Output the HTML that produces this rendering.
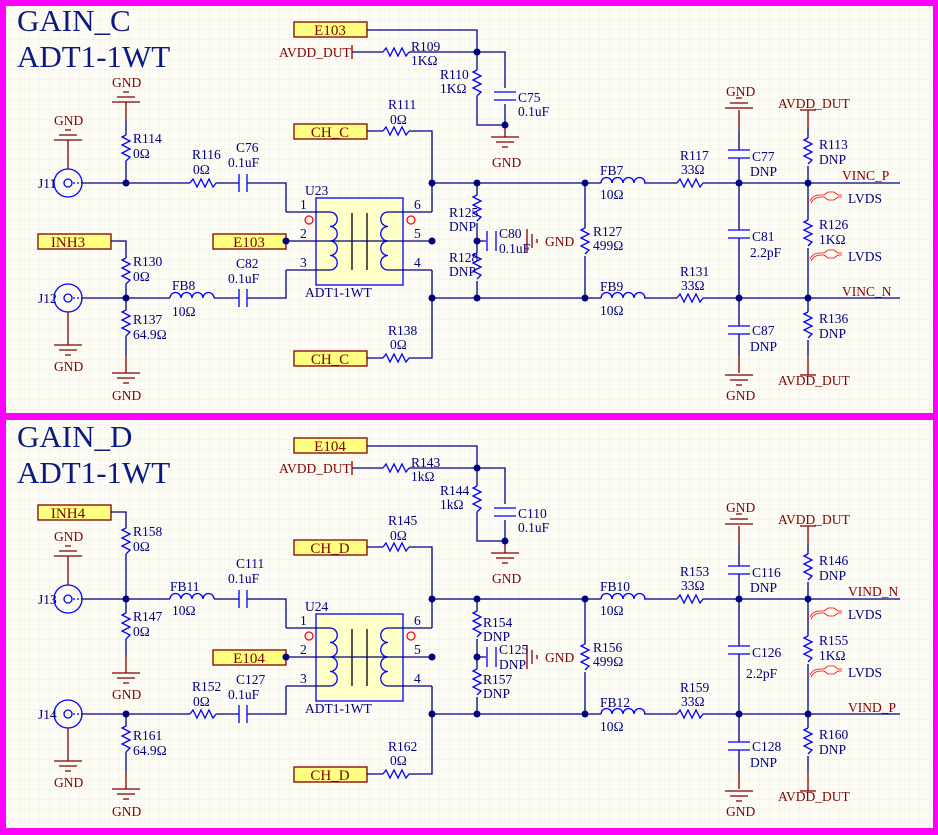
<!DOCTYPE html>
<html><head><meta charset="utf-8"><style>
html,body{margin:0;padding:0;background:#ff00ff;}
svg{display:block;}
text{font-family:"Liberation Serif",serif;font-size:13.5px;fill:#000080;}
.r{fill:#800000;}
.p{fill:#800000;font-size:15px;text-anchor:middle;}
.t{font-size:31px;fill:#0a1a80;}
.w{stroke:#000080;stroke-width:1.3;fill:none;}
.b{stroke:#0000ff;stroke-width:1.3;fill:none;}
.d{stroke:#800000;stroke-width:1.3;fill:none;}
.k{stroke:#000;stroke-width:1.3;fill:none;}
.red{stroke:#ff0000;stroke-width:0.8;fill:none;}
.port{fill:#ffff80;stroke:#800000;stroke-width:1.3;}
.dot{fill:#000080;}
</style></head><body>
<svg width="938" height="835" viewBox="0 0 938 835" xmlns="http://www.w3.org/2000/svg">
<defs>
<pattern id="grid" width="10" height="10" patternUnits="userSpaceOnUse">
<path d="M10,0 V10 M0,10 H10" stroke="#eeede6" stroke-width="1" fill="none"/>
</pattern>
<g id="rh"><path class="b" d="M0,0 l3,-4 l4,8 l4,-8 l4,8 l4,-8 l4,8 l3,-4"/></g>
<g id="rv"><path class="b" d="M0,0 l-4,2 l8,4 l-8,4 l8,4 l-8,4 l8,4 l-4,4"/></g>
<g id="ind"><path class="b" d="M0,0 a5.5,5.5 0 0 1 11,0 a5.5,5.5 0 0 1 11,0 a5.5,5.5 0 0 1 11,0 a5.5,5.5 0 0 1 11,0"/></g>
<g id="ch"><path class="b" d="M-4,-9 V9 M4,-9 V9"/></g>
<g id="cv"><path class="b" d="M-11,-4 H11 M-11,4 H11"/></g>
<g id="gt"><path class="d" d="M-14,0 H14 M-9,-5 H9 M-3,-10 H3"/></g>
<g id="gb"><path class="d" d="M-14,0 H14 M-9,5 H9 M-3,10 H3"/></g>
<g id="lv"><path class="red" d="M0,8 q3,-6 10,-6 h4 l4,-3 h6 l4,3 h4 M1,10 q3,-6 10,-6 h3 l4,3 h6 l4,-3 h4"/></g>
<g id="jc"><circle cx="0" cy="0" r="14" class="b"/><circle cx="0" cy="0" r="4" class="b"/><path class="b" d="M5,0 H14" stroke-dasharray="2,2"/></g>
<g id="xf">
<rect x="316" y="198" width="87" height="87" fill="#ffffc8" stroke="#0000ff" stroke-width="1.3"/>
<path class="b" d="M330,212 a7.25,7.25 0 0 1 0,14.5 a7.25,7.25 0 0 1 0,14.5 a7.25,7.25 0 0 1 0,14.5 a7.25,7.25 0 0 1 0,14.5"/>
<path class="b" d="M388,212 a7.25,7.25 0 0 0 0,14.5 a7.25,7.25 0 0 0 0,14.5 a7.25,7.25 0 0 0 0,14.5 a7.25,7.25 0 0 0 0,14.5"/>
<path class="k" d="M352,213 V270 M367,213 V270"/>
<path class="w" d="M286,212 H330 M286,270 H330 M388,212 H432 M388,270 H432 M286,241 H432"/>
<circle cx="309" cy="220" r="4" fill="none" stroke="#ff0000" stroke-width="1.2"/>
<circle cx="411" cy="220" r="4" fill="none" stroke="#ff0000" stroke-width="1.2"/>
<text x="300" y="209" fill="#000">1</text><text x="300" y="238" fill="#000">2</text><text x="300" y="267" fill="#000">3</text>
<text x="414" y="209" fill="#000">6</text><text x="414" y="238" fill="#000">5</text><text x="414" y="267" fill="#000">4</text>
</g>
<g id="common">
<rect class="port" x="294" y="22" width="73" height="15"/>
<path class="w" d="M367,30 H477 V52 M352,52 H383 M409,52 H505 V88 M505,104 V125 M477,52 V70 M477,96 V125 H505"/>
<path class="d" d="M352,45 V59 M505,125 V137"/>
<use href="#rh" x="383" y="52"/><use href="#rv" x="477" y="70"/>
<g transform="translate(505,96)"><use href="#cv"/></g>
<circle class="dot" cx="477" cy="52" r="3.5"/><circle class="dot" cx="505" cy="125" r="3.5"/>
<use href="#gb" x="505" y="137"/><text class="r" x="492" y="167">GND</text>
<text class="r" x="279" y="57">AVDD_DUT</text>
<rect class="port" x="294" y="124" width="73" height="15"/>
<rect class="port" x="294" y="351" width="73" height="15"/>
<path class="w" d="M367,131 H383 M409,131 H432 V212 M367,358 H383 M409,358 H432 V270"/>
<use href="#rh" x="383" y="131"/><use href="#rh" x="383" y="358"/>
<rect class="port" x="213" y="234" width="73" height="15"/>
<circle class="dot" cx="286" cy="241" r="3.5"/>
<use href="#xf"/>
<path class="w" d="M247,183 H286 V212 M247,298 H286 V270"/>
<path class="w" d="M432,183 H601 M644,183 H677 M703,183 H900 M432,298 H601 M644,298 H677 M703,298 H900"/>
<use href="#ind" x="601" y="183"/><use href="#ind" x="601" y="298"/>
<use href="#rh" x="677" y="183"/><use href="#rh" x="677" y="298"/>
<path class="w" d="M477,183 V195 M477,223 V253 M477,281 V298 M477,241 H486"/>
<use href="#rv" x="477" y="195"/><use href="#rv" x="477" y="253"/>
<path class="b" d="M487,231 V251 M496,231 V251"/>
<path class="d" d="M527,229 V253 M532,234 V248 M537,239 V243"/>
<text class="r" x="545" y="246">GND</text>
<path class="w" d="M585,183 V228 M585,256 V298"/><use href="#rv" x="585" y="228"/>
<path class="w" d="M739,130 V150 M739,158 V230 M739,238 V326 M739,334 V355"/>
<path class="d" d="M739,110 V130 M739,355 V373"/>
<g transform="translate(739,154)"><use href="#cv"/></g>
<g transform="translate(739,234)"><use href="#cv"/></g>
<g transform="translate(739,330)"><use href="#cv"/></g>
<use href="#gt" x="739" y="108"/><text class="r" x="726" y="96">GND</text>
<use href="#gb" x="739" y="375"/><text class="r" x="726" y="400">GND</text>
<path class="w" d="M808,128 V138 M808,166 V220 M808,248 V312 M808,340 V355"/>
<path class="d" d="M808,110 V128 M808,355 V375 M800,110 H816 M800,375 H816"/>
<use href="#rv" x="808" y="138"/><use href="#rv" x="808" y="220"/><use href="#rv" x="808" y="312"/>
<use href="#lv" x="810" y="193"/><use href="#lv" x="810" y="251"/>
<text x="848" y="203">LVDS</text><text x="848" y="261">LVDS</text>
<text class="r" x="778" y="108">AVDD_DUT</text><text class="r" x="778" y="385">AVDD_DUT</text>
<circle class="dot" cx="432" cy="183" r="3.5"/><circle class="dot" cx="477" cy="183" r="3.5"/><circle class="dot" cx="585" cy="183" r="3.5"/><circle class="dot" cx="739" cy="183" r="3.5"/><circle class="dot" cx="808" cy="183" r="3.5"/>
<circle class="dot" cx="432" cy="298" r="3.5"/><circle class="dot" cx="477" cy="298" r="3.5"/><circle class="dot" cx="585" cy="298" r="3.5"/><circle class="dot" cx="739" cy="298" r="3.5"/><circle class="dot" cx="808" cy="298" r="3.5"/>
<circle class="dot" cx="432" cy="241" r="3.5"/><circle class="dot" cx="477" cy="241" r="3.5"/>
<use href="#jc" x="68" y="183"/><use href="#jc" x="68" y="298"/>
<path class="w" d="M82,183 H126 M82,298 H126"/>
<path class="d" d="M68,140 V169 M68,312 V345"/>
<use href="#gt" x="68" y="140"/><text class="r" x="54" y="125">GND</text>
<use href="#gb" x="68" y="345"/><text class="r" x="54" y="371">GND</text>
<circle class="dot" cx="126" cy="183" r="3.5"/><circle class="dot" cx="126" cy="298" r="3.5"/>
</g>
</defs>

<rect x="6" y="6" width="927" height="407" fill="#fcfbf4"/>
<rect x="6" y="420" width="927" height="408" fill="#fcfbf4"/>
<rect x="6" y="6" width="927" height="407" fill="url(#grid)"/>
<rect x="6" y="420" width="927" height="408" fill="url(#grid)"/>

<g>
<use href="#common"/>
<text class="t" x="17" y="31">GAIN_C</text>
<text class="t" x="17" y="67">ADT1-1WT</text>
<text class="p" x="330" y="35">E103</text>
<text class="p" x="330" y="137">CH_C</text><text class="p" x="330" y="364">CH_C</text>
<text class="p" x="249" y="247">E103</text>
<text x="411" y="51">R109</text><text x="411" y="65">1KΩ</text>
<text x="440" y="79">R110</text><text x="440" y="93">1KΩ</text>
<text x="518" y="102">C75</text><text x="518" y="116">0.1uF</text>
<text x="388" y="109">R111</text><text x="390" y="124">0Ω</text>
<text x="388" y="335">R138</text><text x="390" y="349">0Ω</text>
<text x="305" y="195">U23</text><text x="305" y="297">ADT1-1WT</text>
<text x="449" y="217">R125</text><text x="449" y="231">DNP</text>
<text x="449" y="262">R128</text><text x="449" y="276">DNP</text>
<text x="499" y="238">C80</text><text x="499" y="253">0.1uF</text>
<text x="593" y="236">R127</text><text x="593" y="250">499Ω</text>
<text x="600" y="175">FB7</text><text x="600" y="199">10Ω</text>
<text x="600" y="291">FB9</text><text x="600" y="315">10Ω</text>
<text x="680" y="160">R117</text><text x="681" y="174">33Ω</text>
<text x="680" y="276">R131</text><text x="681" y="290">33Ω</text>
<text x="752" y="161">C77</text><text x="750" y="176">DNP</text>
<text x="752" y="241">C81</text><text x="750" y="257">2.2pF</text>
<text x="752" y="335">C87</text><text x="750" y="351">DNP</text>
<text x="819" y="149">R113</text><text x="819" y="164">DNP</text>
<text x="819" y="229">R126</text><text x="819" y="244">1KΩ</text>
<text x="819" y="323">R136</text><text x="819" y="338">DNP</text>
<text class="r" x="842" y="180">VINC_P</text><text class="r" x="842" y="296">VINC_N</text>
<text x="38" y="188">J11</text><text x="38" y="303">J12</text>
<path class="w" d="M126,183 H190 M216,183 H239 M126,298 H170 M214,298 H239"/>
<use href="#rh" x="190" y="183"/><g transform="translate(243,183)"><use href="#ch"/></g>
<use href="#ind" x="170" y="298"/><g transform="translate(243,298)"><use href="#ch"/></g>
<text x="192" y="159">R116</text><text x="193" y="174">0Ω</text>
<text x="236" y="152">C76</text><text x="228" y="167">0.1uF</text>
<text x="172" y="290">FB8</text><text x="172" y="316">10Ω</text>
<text x="236" y="268">C82</text><text x="228" y="283">0.1uF</text>
<path class="d" d="M126,102 V120"/><path class="w" d="M126,120 V135 M126,161 V183"/>
<use href="#gt" x="126" y="102"/><text class="r" x="112" y="87">GND</text>
<use href="#rv" x="126" y="135"/>
<text x="133" y="143">R114</text><text x="133" y="158">0Ω</text>
<rect class="port" x="38" y="234" width="73" height="15"/>
<text class="p" x="68" y="247">INH3</text>
<path class="w" d="M111,241 H126 V258 M126,284 V310 M126,336 V355"/>
<path class="d" d="M126,355 V373"/>
<use href="#rv" x="126" y="258"/><use href="#rv" x="126" y="310"/>
<use href="#gb" x="126" y="373"/><text class="r" x="112" y="400">GND</text>
<text x="133" y="266">R130</text><text x="133" y="281">0Ω</text>
<text x="133" y="324">R137</text><text x="133" y="339">64.9Ω</text>
</g>

<g transform="translate(0,416)">
<use href="#common"/>
<text class="t" x="17" y="31">GAIN_D</text>
<text class="t" x="17" y="67">ADT1-1WT</text>
<text class="p" x="330" y="35">E104</text>
<text class="p" x="330" y="137">CH_D</text><text class="p" x="330" y="364">CH_D</text>
<text class="p" x="249" y="247">E104</text>
<text x="411" y="51">R143</text><text x="411" y="65">1kΩ</text>
<text x="440" y="79">R144</text><text x="440" y="93">1kΩ</text>
<text x="518" y="102">C110</text><text x="518" y="116">0.1uF</text>
<text x="388" y="109">R145</text><text x="390" y="124">0Ω</text>
<text x="388" y="335">R162</text><text x="390" y="349">0Ω</text>
<text x="305" y="195">U24</text><text x="305" y="297">ADT1-1WT</text>
<text x="483" y="211">R154</text><text x="483" y="225">DNP</text>
<text x="483" y="268">R157</text><text x="483" y="282">DNP</text>
<text x="499" y="238">C125</text><text x="499" y="253">DNP</text>
<text x="593" y="236">R156</text><text x="593" y="250">499Ω</text>
<text x="600" y="175">FB10</text><text x="600" y="199">10Ω</text>
<text x="600" y="291">FB12</text><text x="600" y="315">10Ω</text>
<text x="680" y="160">R153</text><text x="681" y="174">33Ω</text>
<text x="680" y="276">R159</text><text x="681" y="290">33Ω</text>
<text x="752" y="161">C116</text><text x="750" y="176">DNP</text>
<text x="752" y="241">C126</text><text x="746" y="262">2.2pF</text>
<text x="752" y="335">C128</text><text x="750" y="351">DNP</text>
<text x="819" y="149">R146</text><text x="819" y="164">DNP</text>
<text x="819" y="229">R155</text><text x="819" y="244">1KΩ</text>
<text x="819" y="323">R160</text><text x="819" y="338">DNP</text>
<text class="r" x="848" y="180">VIND_N</text><text class="r" x="848" y="296">VIND_P</text>
<text x="38" y="188">J13</text><text x="38" y="303">J14</text>
<path class="w" d="M126,183 H170 M214,183 H239 M126,298 H190 M216,298 H239"/>
<use href="#ind" x="170" y="183"/><g transform="translate(243,183)"><use href="#ch"/></g>
<use href="#rh" x="190" y="298"/><g transform="translate(243,298)"><use href="#ch"/></g>
<text x="170" y="175">FB11</text><text x="172" y="199">10Ω</text>
<text x="236" y="152">C111</text><text x="228" y="167">0.1uF</text>
<text x="192" y="275">R152</text><text x="193" y="290">0Ω</text>
<text x="236" y="268">C127</text><text x="228" y="283">0.1uF</text>
<rect class="port" x="38" y="89" width="73" height="15"/>
<text class="p" x="68" y="102">INH4</text>
<path class="w" d="M111,96 H126 V112 M126,138 V183 V197 M126,223 V240"/>
<path class="d" d="M126,240 V257"/>
<use href="#rv" x="126" y="112"/><use href="#rv" x="126" y="197"/>
<use href="#gb" x="126" y="257"/><text class="r" x="112" y="283">GND</text>
<text x="133" y="120">R158</text><text x="133" y="135">0Ω</text>
<text x="133" y="205">R147</text><text x="133" y="220">0Ω</text>
<path class="w" d="M126,298 V310 M126,336 V355"/>
<path class="d" d="M126,355 V373"/>
<use href="#rv" x="126" y="310"/>
<use href="#gb" x="126" y="373"/><text class="r" x="112" y="400">GND</text>
<text x="133" y="324">R161</text><text x="133" y="339">64.9Ω</text>
</g>
</svg>
</body></html>
